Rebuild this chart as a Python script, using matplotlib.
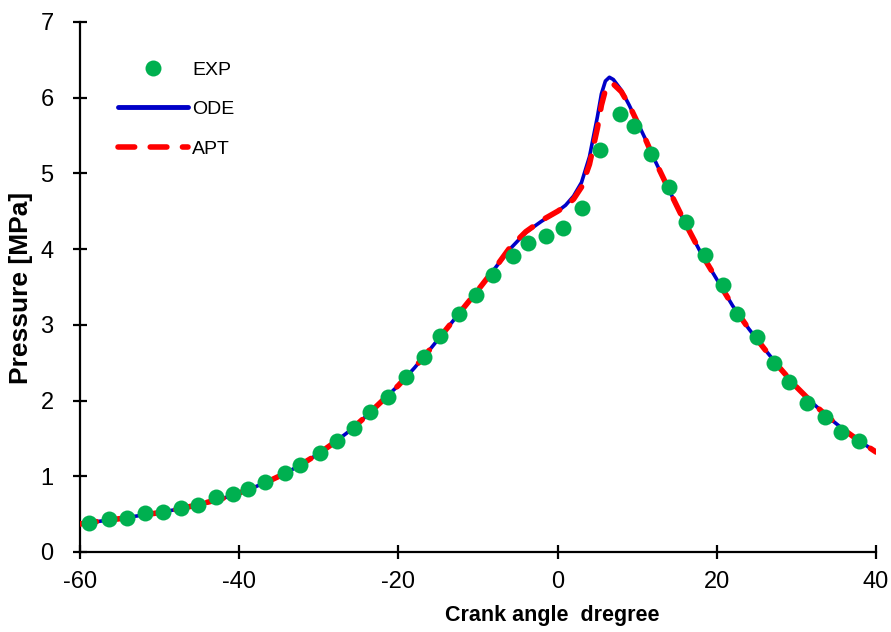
import matplotlib
matplotlib.use("Agg")
import matplotlib.pyplot as plt
from matplotlib.lines import Line2D

plt.rcParams["font.family"] = ["Liberation Sans", "DejaVu Sans"]
plt.rcParams["axes.unicode_minus"] = False

# measured cylinder pressure
exp_angle = [-58.9, -56.4, -54.1, -51.8, -49.6, -47.3, -45.2, -42.9, -40.8, -38.9,
             -36.8, -34.2, -32.4, -29.8, -27.7, -25.6, -23.6, -21.3, -19.0, -16.8,
             -14.8, -12.4, -10.3, -8.1, -5.6, -3.7, -1.5, 0.7, 3.1, 5.3,
             7.8, 9.6, 11.7, 14.0, 16.1, 18.5, 20.8, 22.5, 25.0, 27.2,
             29.1, 31.3, 33.6, 35.6, 37.9]
exp_pressure = [0.38, 0.44, 0.45, 0.52, 0.53, 0.58, 0.62, 0.73, 0.77, 0.83,
                0.92, 1.04, 1.15, 1.31, 1.47, 1.64, 1.85, 2.05, 2.31, 2.58,
                2.85, 3.14, 3.40, 3.66, 3.91, 4.08, 4.17, 4.28, 4.54, 5.31,
                5.79, 5.62, 5.26, 4.82, 4.36, 3.92, 3.53, 3.14, 2.84, 2.50,
                2.25, 1.97, 1.78, 1.59, 1.47]

# simulated curves
sim_angle = [-60, -58, -55, -52, -50, -47, -45, -42, -40, -38,
             -36, -34, -32, -30, -28, -26, -24, -22, -20, -18,
             -16, -14, -12, -10, -8, -6, -4, -2, 0, 1,
             2, 3, 4, 5, 5.5, 6, 6.5, 7, 8, 9,
             10, 11, 12, 14, 16, 18, 20, 22, 24, 26,
             28, 30, 32, 34, 36, 38, 40]
ode_pressure = [0.37, 0.40, 0.44, 0.49, 0.52, 0.58, 0.63, 0.71, 0.78, 0.86,
                0.95, 1.05, 1.17, 1.30, 1.45, 1.61, 1.80, 2.00, 2.20, 2.43,
                2.68, 2.94, 3.20, 3.46, 3.73, 4.00, 4.22, 4.37, 4.50, 4.58,
                4.70, 4.88, 5.22, 5.75, 6.05, 6.22, 6.27, 6.24, 6.10, 5.90,
                5.68, 5.46, 5.22, 4.78, 4.35, 3.95, 3.60, 3.25, 2.95, 2.68,
                2.42, 2.18, 1.97, 1.78, 1.61, 1.46, 1.32]
apt_pressure = [0.37, 0.40, 0.44, 0.49, 0.52, 0.58, 0.63, 0.71, 0.78, 0.86,
                0.95, 1.05, 1.17, 1.30, 1.45, 1.61, 1.80, 2.00, 2.20, 2.43,
                2.68, 2.94, 3.20, 3.46, 3.73, 4.02, 4.23, 4.38, 4.50, 4.57,
                4.66, 4.82, 5.12, 5.60, 5.90, 6.10, 6.18, 6.18, 6.08, 5.90,
                5.68, 5.46, 5.22, 4.78, 4.35, 3.95, 3.60, 3.25, 2.95, 2.68,
                2.42, 2.18, 1.97, 1.78, 1.61, 1.46, 1.32]

green = "#00B050"
blue = "#0000C8"
red = "#FF0000"

fig = plt.figure(figsize=(8.91, 6.32), dpi=100)
ax = fig.add_axes([0.0898, 0.1266, 0.8934, 0.8386])

ax.plot(sim_angle, ode_pressure, color=blue, lw=2.6, zorder=2)
ax.plot(sim_angle, apt_pressure, color=red, lw=4, dashes=(3, 2.8),
        dash_capstyle="round", zorder=3)
ax.plot(exp_angle, exp_pressure, "o", color=green, ms=11.5, mec="none", zorder=4)

ax.set_xlim(-60, 40)
ax.set_ylim(0, 7)
ax.set_xticks(range(-60, 41, 20))
ax.set_yticks(range(0, 8))

for side in ["top", "right"]:
    ax.spines[side].set_visible(False)
for side in ["left", "bottom"]:
    ax.spines[side].set_linewidth(1.6)

ax.tick_params(axis="both", direction="inout", length=10, width=1.6,
               labelsize=17)
ax.tick_params(axis="x", pad=9)
ax.tick_params(axis="y", pad=14)

ax.set_xlabel("Crank angle  dregree", fontsize=15.5, fontweight="bold", va="top")
ax.xaxis.set_label_coords(0.593, -0.100)
ax.set_ylabel("Pressure [MPa]", fontsize=19, fontweight="bold")
ax.yaxis.set_label_coords(-0.059, 0.498)

handles = [
    Line2D([], [], ls="none", marker="o", color=green, ms=11.5, mec="none"),
    Line2D([], [], color=blue, lw=3.5, solid_capstyle="round"),
    Line2D([], [], color=red, lw=4, dashes=(3, 2.8), dash_capstyle="round"),
]
ax.legend(handles, ["EXP", "ODE", "APT"], loc="upper left",
          bbox_to_anchor=(118 / 891, 1 - 61 / 632), bbox_transform=fig.transFigure,
          frameon=False, fontsize=14, handlelength=3.6, handletextpad=0.2,
          labelspacing=1.13, borderpad=0, borderaxespad=0)

fig.savefig("out.png", dpi=100)
